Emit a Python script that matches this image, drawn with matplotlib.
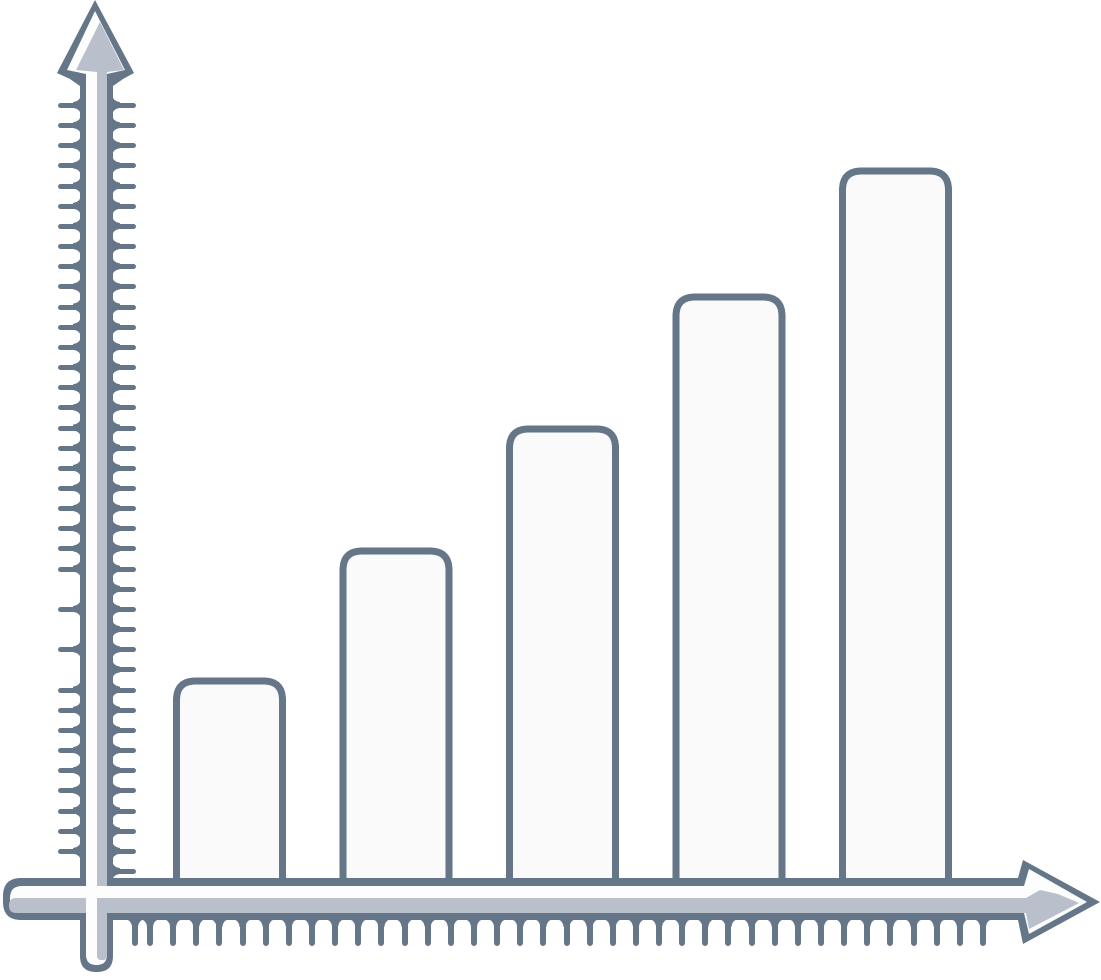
import matplotlib
matplotlib.use("Agg")
import matplotlib.pyplot as plt
import numpy as np
from matplotlib.patches import FancyBboxPatch, Polygon, Rectangle

# Bar heights above the x axis (in pixel units)
categories = [1, 2, 3, 4, 5]
bar_values = [197, 327, 449, 581, 707]

# Colours
DARK = "#647687"
GRAY = "#b9c0cc"
FILL = "#fafafb"
WHITE = "#fdfdfe"

# Layout (picture pixels; BASE is the pixel row of the x axis top edge)
W, H = 1101, 980
BASE = 878
BAR_X0, BAR_STEP, BAR_W = 229.5, 166.5, 106
LW_BAR = 7 * 72 / 100  # 7 px outline


def P(pts):
    # pixel (x, row) -> data (x, y)
    return [(x, BASE - py) for x, py in pts]


def fillet(side):
    # concave flare where a tick meets the shaft, as offsets (along, across)
    return [(0, -9), (2, -5.5), (4.5, -3.6), (8, -2.6)], side


fig = plt.figure(figsize=(W / 100, H / 100), dpi=100)
ax = fig.add_axes([0, 0, 1, 1])
ax.set_xlim(0, W)
ax.set_ylim(BASE - H, BASE)
ax.axis("off")

# Bars: drawn with ax.bar, then swapped for round-topped boxes
x_pos = BAR_X0 + BAR_STEP * (np.array(categories) - 1)
bars = ax.bar(x_pos, np.array(bar_values) + 20, width=BAR_W, bottom=-20)
for r in bars:
    x, y, w, h = r.get_x(), r.get_y(), r.get_width(), r.get_height()
    r.remove()
    ax.add_patch(FancyBboxPatch((x, y), w, h, boxstyle="round,pad=0,rounding_size=19",
                                facecolor=FILL, edgecolor=DARK, linewidth=LW_BAR,
                                zorder=1))

# --- axes drawn as thick arrows ---
# dark outer silhouettes
ax.add_patch(FancyBboxPatch((3, BASE - 920), 1040, 42, boxstyle="round,pad=0,rounding_size=18",
                            facecolor=DARK, edgecolor="none", zorder=2))
ax.add_patch(FancyBboxPatch((80, BASE - 972), 33, 900, boxstyle="round,pad=0,rounding_size=16",
                            facecolor=DARK, edgecolor="none", zorder=2))
ax.add_patch(Polygon(P([(80, 86), (70, 79), (57, 73), (95, 0), (134, 73), (123, 79), (113, 86)]),
                     closed=True, facecolor=DARK, edgecolor="none", zorder=2))
ax.add_patch(Polygon(P([(1018, 878), (1023, 860), (1100, 902), (1023, 944), (1018, 920)]),
                     closed=True, facecolor=DARK, edgecolor="none", zorder=2))

flare = [(0, -9), (2, -5.5), (4.5, -3.8), (8, -2.8), (8, 2.8), (4.5, 3.8), (2, 5.5), (0, 9)]

# ticks on the y axis
y_ticks = np.linspace(105, 871, 39)
left_skip = {24, 26, 28, 38}
for i, py in enumerate(y_ticks):
    ax.plot([114, 133], [BASE - py] * 2, color=DARK, lw=3.6, solid_capstyle="round", zorder=2)
    ax.add_patch(Polygon(P([(112 + a, py + b) for a, b in flare]),
                         closed=True, facecolor=DARK, edgecolor="none", zorder=2))
    if i in left_skip:
        continue
    ax.plot([60, 80], [BASE - py] * 2, color=DARK, lw=3.6, solid_capstyle="round", zorder=2)
    ax.add_patch(Polygon(P([(81 - a, py + b) for a, b in flare]),
                         closed=True, facecolor=DARK, edgecolor="none", zorder=2))

# ticks on the x axis
x_ticks = np.concatenate([[135], np.linspace(150, 983, 37)])
for x in x_ticks:
    ax.plot([x, x], [BASE - 918, BASE - 943], color=DARK, lw=4.3, solid_capstyle="round", zorder=2)
    ax.add_patch(Polygon(P([(x + b, 919 + a) for a, b in flare]),
                         closed=True, facecolor=DARK, edgecolor="none", zorder=2))

# white insides
ax.add_patch(FancyBboxPatch((10, BASE - 913), 1028, 27, boxstyle="round,pad=0,rounding_size=12",
                            facecolor=WHITE, edgecolor="none", zorder=3))
ax.add_patch(FancyBboxPatch((86, BASE - 965), 21, 888, boxstyle="round,pad=0,rounding_size=10",
                            facecolor=WHITE, edgecolor="none", zorder=3))
ax.add_patch(Polygon(P([(67, 70), (95, 11), (125, 70), (107, 74), (107, 82), (86, 82), (86, 74)]),
                     closed=True, facecolor=WHITE, edgecolor="none", zorder=3))
ax.add_patch(Polygon(P([(1029, 869), (1087, 902), (1029, 934), (1024, 913), (1024, 886)]),
                     closed=True, facecolor=WHITE, edgecolor="none", zorder=3))

# gray shading
ax.add_patch(FancyBboxPatch((9, BASE - 913), 1025, 15, boxstyle="round,pad=0,rounding_size=7",
                            facecolor=GRAY, edgecolor="none", zorder=4))
ax.add_patch(FancyBboxPatch((97, BASE - 960), 10, 882, boxstyle="round,pad=0,rounding_size=4",
                            facecolor=GRAY, edgecolor="none", zorder=4))
ax.add_patch(Polygon(P([(76, 70), (100, 22), (124, 70), (107, 72), (107, 84), (97, 84), (97, 72)]),
                     closed=True, facecolor=GRAY, edgecolor="none", zorder=4))
ax.add_patch(Polygon(P([(1026, 898), (1040, 890), (1058, 894), (1079, 903), (1029, 929), (1026, 913)]),
                     closed=True, facecolor=GRAY, edgecolor="none", zorder=4))

# white highlight strips crossing over the gray
ax.add_patch(Rectangle((22, BASE - 898), 1004, 12, facecolor=WHITE, edgecolor="none", zorder=5))
ax.add_patch(Rectangle((86, BASE - 955), 11, 873, facecolor=WHITE, edgecolor="none", zorder=5))

fig.savefig("out.png", dpi=100, facecolor="white")
